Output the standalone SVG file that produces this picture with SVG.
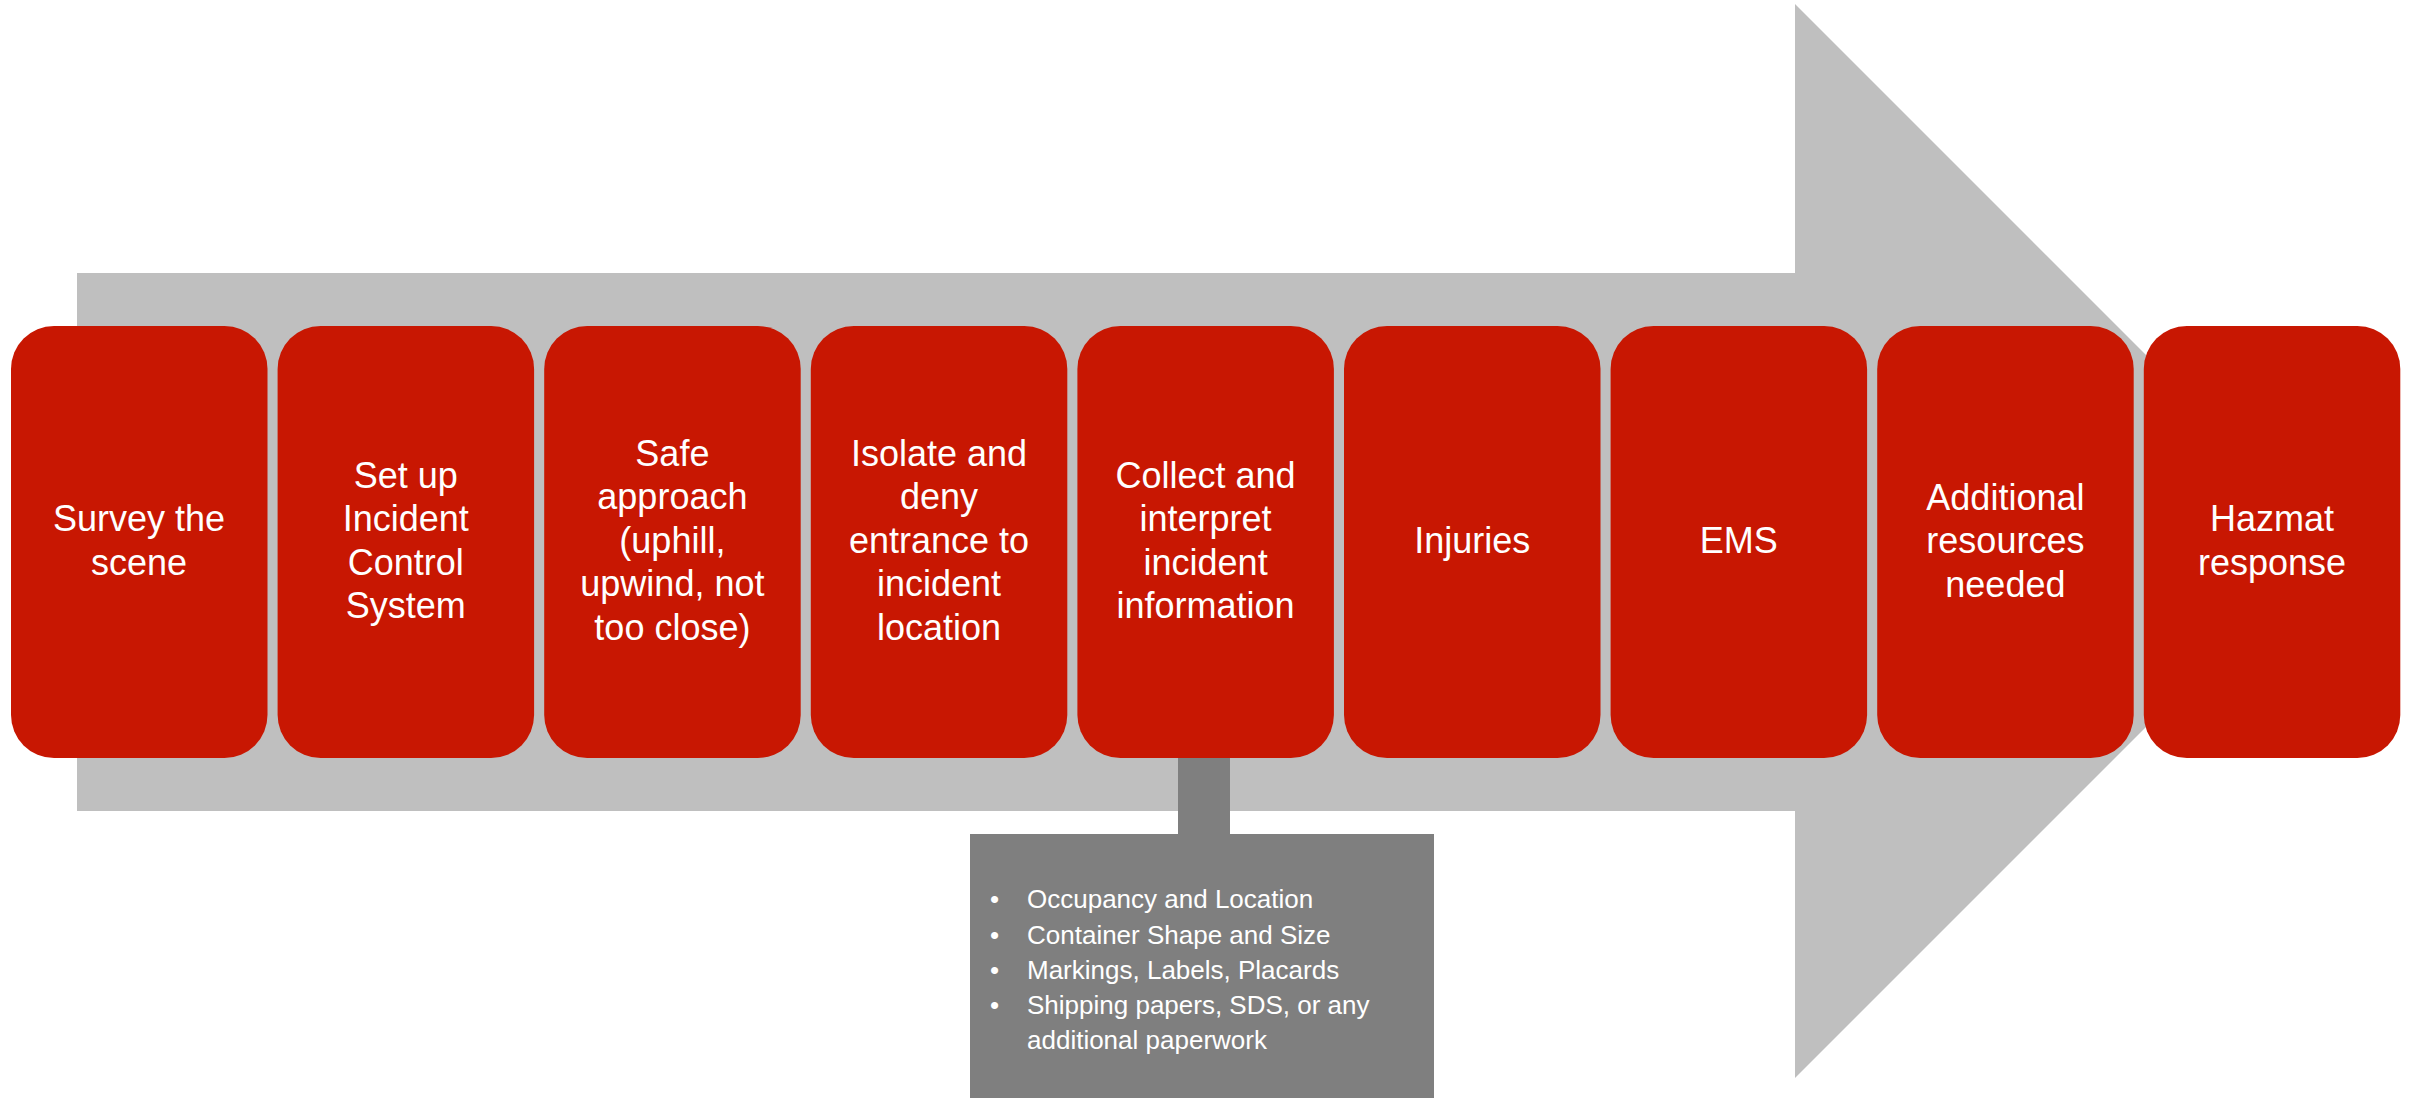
<svg xmlns="http://www.w3.org/2000/svg" width="2410" height="1098" viewBox="0 0 2410 1098">
<style>
.box{fill:#C81702;}
.lbl{font-family:"Liberation Sans",Arial,sans-serif;font-size:36px;fill:#FFFFFF;text-anchor:middle;}
.bul{font-family:"Liberation Sans",Arial,sans-serif;font-size:26px;fill:#FFFFFF;}
</style>
<rect width="2410" height="1098" fill="#FFFFFF"/>
<g id="arrow">
<polygon points="77,273 1795,273 1795,4 2332,541 1795,1078 1795,811 77,811" fill="#BFBFBF"/>
</g>
<g id="connectors">
<rect x="1178" y="755" width="52" height="80" fill="#7F7F7F"/>
</g>
<g id="n1"><rect class="box" x="11" y="326" width="256.5" height="432" rx="43"/>
<text class="lbl" x="139" y="531">Survey the</text><text class="lbl" x="139" y="574.5">scene</text></g>
<g id="n2"><rect class="box" x="277.6" y="326" width="256.5" height="432" rx="43"/>
<text class="lbl" x="405.8" y="487.7">Set up</text><text class="lbl" x="405.8" y="531.2">Incident</text><text class="lbl" x="405.8" y="574.7">Control</text><text class="lbl" x="405.8" y="618.2">System</text></g>
<g id="n3"><rect class="box" x="544.2" y="326" width="256.5" height="432" rx="43"/>
<text class="lbl" x="672.4" y="465.5">Safe</text><text class="lbl" x="672.4" y="509">approach</text><text class="lbl" x="672.4" y="552.5">(uphill,</text><text class="lbl" x="672.4" y="596">upwind, not</text><text class="lbl" x="672.4" y="639.5">too close)</text></g>
<g id="n4"><rect class="box" x="810.8" y="326" width="256.5" height="432" rx="43"/>
<text class="lbl" x="939" y="465.5">Isolate and</text><text class="lbl" x="939" y="509">deny</text><text class="lbl" x="939" y="552.5">entrance to</text><text class="lbl" x="939" y="596">incident</text><text class="lbl" x="939" y="639.5">location</text></g>
<g id="n5"><rect class="box" x="1077.4" y="326" width="256.5" height="432" rx="43"/>
<text class="lbl" x="1205.6" y="487.7">Collect and</text><text class="lbl" x="1205.6" y="531.2">interpret</text><text class="lbl" x="1205.6" y="574.7">incident</text><text class="lbl" x="1205.6" y="618.2">information</text></g>
<g id="n6"><rect class="box" x="1344" y="326" width="256.5" height="432" rx="43"/>
<text class="lbl" x="1472.2" y="553">Injuries</text></g>
<g id="n7"><rect class="box" x="1610.6" y="326" width="256.5" height="432" rx="43"/>
<text class="lbl" x="1738.8" y="553">EMS</text></g>
<g id="n8"><rect class="box" x="1877.2" y="326" width="256.5" height="432" rx="43"/>
<text class="lbl" x="2005.4" y="509.5">Additional</text><text class="lbl" x="2005.4" y="553">resources</text><text class="lbl" x="2005.4" y="596.5">needed</text></g>
<g id="n9"><rect class="box" x="2143.8" y="326" width="256.5" height="432" rx="43"/>
<text class="lbl" x="2272" y="531">Hazmat</text><text class="lbl" x="2272" y="574.5">response</text></g>
<g id="details">
<rect x="970" y="834" width="464" height="264" fill="#7F7F7F"/>
<text class="bul" x="990" y="908">•</text><text class="bul" x="1027" y="908">Occupancy and Location</text>
<text class="bul" x="990" y="943.5">•</text><text class="bul" x="1027" y="943.5">Container Shape and Size</text>
<text class="bul" x="990" y="979">•</text><text class="bul" x="1027" y="979">Markings, Labels, Placards</text>
<text class="bul" x="990" y="1014">•</text><text class="bul" x="1027" y="1014">Shipping papers, SDS, or any</text>
<text class="bul" x="1027" y="1049">additional paperwork</text>
</g>
</svg>
